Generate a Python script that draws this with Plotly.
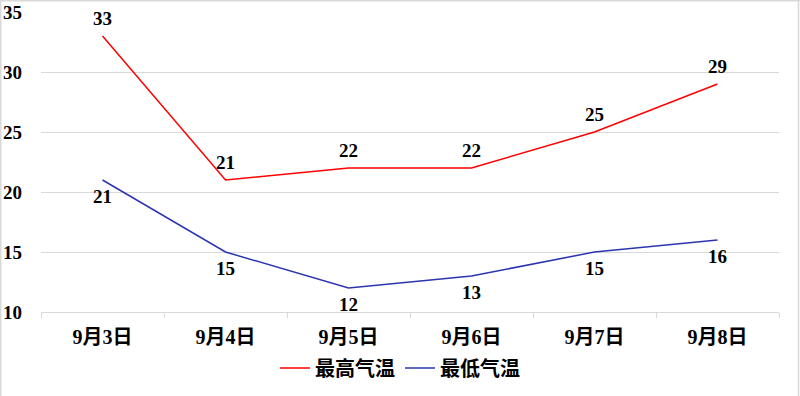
import plotly.graph_objects as go

categories = ["9月3日", "9月4日", "9月5日", "9月6日", "9月7日", "9月8日"]
high_temp = [33, 21, 22, 22, 25, 29]
low_temp = [21, 15, 12, 13, 15, 16]
y_ticks = [10, 15, 20, 25, 30, 35]

W, H = 800, 396
L, R, T, B = 41, 21, 12, 84
pw, ph = W - L - R, H - T - B

font_fam = "Times New Roman, Liberation Serif, Noto Sans CJK SC, serif"
label_font = dict(family=font_fam, size=19, color="#000000", weight="bold")

fig = go.Figure()
fig.add_trace(go.Scatter(
    x=categories, y=high_temp, name="最高气温", mode="lines",
    line=dict(color="#FF0000", width=1.5),
))
fig.add_trace(go.Scatter(
    x=categories, y=low_temp, name="最低气温", mode="lines",
    line=dict(color="#2B35AF", width=1.5),
))
fig.add_trace(go.Scatter(
    x=categories, y=high_temp, mode="markers+text", showlegend=False,
    hoverinfo="skip", marker=dict(size=8, opacity=0),
    text=[str(v) for v in high_temp], textposition="top center",
    textfont=label_font,
))
fig.add_trace(go.Scatter(
    x=categories, y=low_temp, mode="markers+text", showlegend=False,
    hoverinfo="skip", marker=dict(size=12, opacity=0),
    text=[str(v) for v in low_temp], textposition="bottom center",
    textfont=label_font,
))

def px_x(p):
    return (p - L) / pw

def px_y(p):
    return (H - B - p) / ph

border = dict(color="#D9D9D9", width=1.5)

fig.update_layout(
    width=W, height=H,
    margin=dict(l=L, r=R, t=T, b=B, autoexpand=False),
    paper_bgcolor="white", plot_bgcolor="white",
    font=dict(family=font_fam, size=17, color="#000000", weight="bold"),
    showlegend=True,
    legend=dict(orientation="h", x=0.5, xanchor="center", xref="container",
                y=(H - 368) / H, yanchor="middle", yref="container",
                font=dict(family="Noto Sans CJK SC, sans-serif", size=20, weight="bold"),
                itemwidth=30, tracegroupgap=0,
                bgcolor="rgba(0,0,0,0)"),
    xaxis=dict(type="category", showgrid=False, showline=True, linecolor="#D9D9D9",
               linewidth=1, ticks="outside", tickson="boundaries", ticklen=5,
               tickcolor="#D9D9D9", automargin=False, ticklabelstandoff=7,
               tickfont=dict(family=font_fam, size=20, weight="bold"),
               range=[-0.5, 5.5]),
    yaxis=dict(range=[10, 35], tickvals=y_ticks, showgrid=True, gridcolor="#D9D9D9",
               gridwidth=1, zeroline=False, showline=False, ticks="",
               automargin=False, ticklabelstandoff=18,
               tickfont=dict(family=font_fam, size=19, weight="bold")),
    shapes=[
        dict(type="line", xref="paper", yref="paper",
             x0=px_x(0.75), x1=px_x(0.75), y0=px_y(0), y1=px_y(H), line=border),
        dict(type="line", xref="paper", yref="paper",
             x0=px_x(0), x1=px_x(W), y0=px_y(0.75), y1=px_y(0.75), line=border),
        dict(type="line", xref="paper", yref="paper",
             x0=px_x(798.5), x1=px_x(798.5), y0=px_y(0), y1=px_y(H), line=border),
    ],
)

fig.write_html("out.html", config={"displayModeBar": False},
               post_script="document.body.style.margin='0';")
